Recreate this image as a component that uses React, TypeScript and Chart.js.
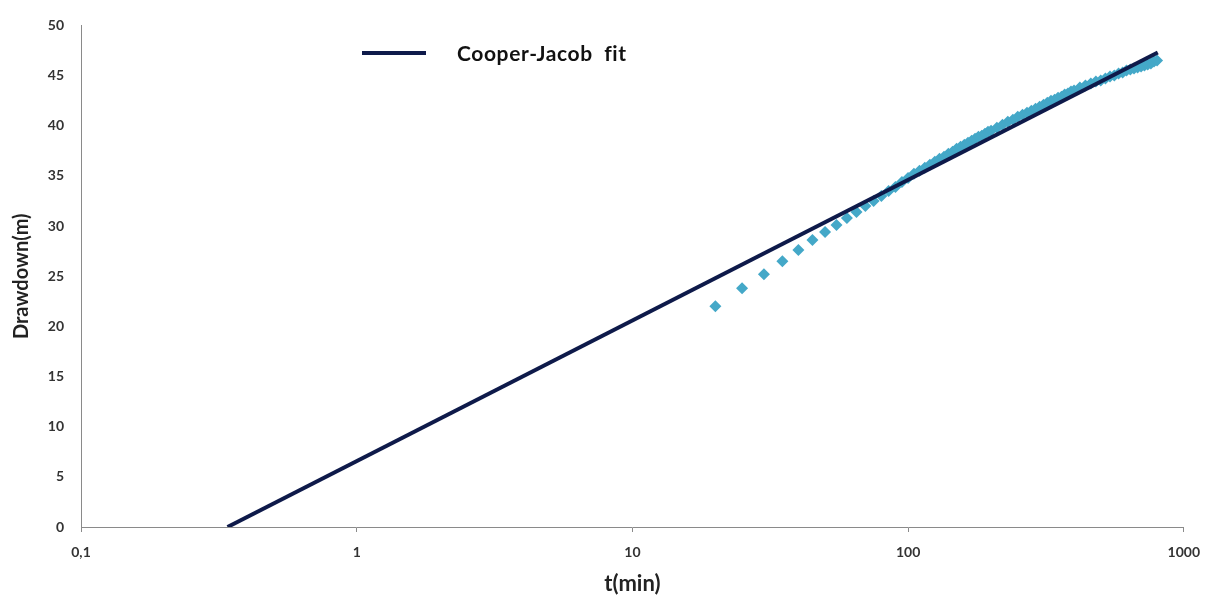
import React, { useEffect, useRef } from "react";
import { Chart, registerables } from "chart.js";

Chart.register(...registerables);

// Measured drawdown (t in minutes, s in metres)
const obsTime: number[] = [
  20, 25, 30, 35, 40, 45, 50, 55, 60, 65, 70, 75, 80, 85, 90, 95, 100,
  105, 110, 115, 120, 125, 130, 135, 140, 145, 150, 155, 160, 165, 170, 175, 180, 185, 190, 195, 200,
  210, 220, 230, 240, 250, 260, 270, 280, 290, 300, 310, 320, 330, 340, 350, 360, 370, 380, 390, 400,
  420, 440, 460, 480, 500, 520, 540, 560, 580, 600, 620, 640, 660, 680, 700, 720, 740, 760, 780, 800,
];
const obsDrawdown: number[] = [
  22.0, 23.8, 25.2, 26.5, 27.6, 28.6, 29.4, 30.1, 30.8, 31.4, 32.0, 32.5, 33.0, 33.5, 33.9, 34.4, 34.8,
  35.2, 35.5, 35.8, 36.1, 36.4, 36.7, 36.9, 37.2, 37.4, 37.7, 37.9, 38.1, 38.3, 38.5, 38.7, 38.9, 39.0, 39.2, 39.4, 39.5,
  39.8, 40.1, 40.4, 40.6, 40.9, 41.1, 41.3, 41.5, 41.7, 41.9, 42.1, 42.3, 42.5, 42.6, 42.8, 42.9, 43.1, 43.2, 43.4, 43.5,
  43.8, 44.0, 44.2, 44.4, 44.5, 44.7, 44.9, 45.0, 45.2, 45.3, 45.5, 45.6, 45.7, 45.8, 45.9, 46.0, 46.1, 46.2, 46.4, 46.5,
];

// Cooper-Jacob straight-line fit (end points)
const fitTime: number[] = [0.34, 805];
const fitDrawdown: number[] = [0, 47.3];

const xTickValues: number[] = [0.1, 1, 10, 100, 1000];
const xTickLabels: string[] = ["0,1", "1", "10", "100", "1000"];
const legendLabel = "Cooper-Jacob  fit";

const FIT_COLOR = "#0e1a4a";
const OBS_COLOR = "#44a8c8";
const FONT = "Lato, 'Open Sans', sans-serif";

export default function App() {
  const canvasRef = useRef<HTMLCanvasElement | null>(null);

  useEffect(() => {
    const canvas = canvasRef.current;
    if (!canvas) return;

    const legendPlugin = {
      id: "customLegend",
      afterDatasetsDraw(chart: any) {
        const ctx = chart.ctx;
        ctx.save();
        ctx.strokeStyle = FIT_COLOR;
        ctx.lineWidth = 4;
        ctx.beginPath();
        ctx.moveTo(362, 53);
        ctx.lineTo(426, 53);
        ctx.stroke();
        ctx.fillStyle = "#111111";
        ctx.font = `bold 21px ${FONT}`;
        try {
          (ctx as any).letterSpacing = "0.6px";
        } catch (e) {
          /* ignore */
        }
        ctx.textBaseline = "middle";
        ctx.textAlign = "left";
        ctx.fillText(legendLabel, 457, 54);
        ctx.restore();
      },
    };

    const chart = new Chart(canvas, {
      type: "scatter",
      data: {
        datasets: [
          {
            label: "Observed",
            data: obsTime.map((t, i) => ({ x: t, y: obsDrawdown[i] })),
            pointStyle: "rectRot",
            pointRadius: 6,
            pointBackgroundColor: OBS_COLOR,
            pointBorderColor: OBS_COLOR,
            pointBorderWidth: 0,
            showLine: false,
            order: 2,
          },
          {
            label: legendLabel,
            data: fitTime.map((t, i) => ({ x: t, y: fitDrawdown[i] })),
            showLine: true,
            borderColor: FIT_COLOR,
            borderWidth: 4,
            pointRadius: 0,
            order: 1,
          } as any,
        ],
      },
      options: {
        animation: false,
        responsive: true,
        maintainAspectRatio: false,
        layout: { padding: { left: 0, right: 27, top: 18, bottom: 0 } },
        plugins: {
          legend: { display: false },
          tooltip: { enabled: false },
        },
        scales: {
          x: {
            type: "logarithmic",
            min: 0.1,
            max: 1000,
            afterBuildTicks: (scale: any) => {
              scale.ticks = xTickValues.map((v) => ({ value: v }));
            },
            afterFit: (scale: any) => {
              scale.height = 75;
            },
            ticks: {
              autoSkip: false,
              maxRotation: 0,
              padding: 12,
              color: "#333333",
              font: { family: FONT, size: 14, weight: "bold" },
              callback: (value: any) => {
                const idx = xTickValues.findIndex((v) => Math.abs(v - Number(value)) < 1e-9);
                return idx >= 0 ? xTickLabels[idx] : "";
              },
            },
            grid: {
              display: true,
              drawOnChartArea: false,
              drawTicks: true,
              tickLength: 5,
              color: "#8a8a8a",
            },
            border: { display: true, color: "#8a8a8a", width: 1 },
            title: {
              display: true,
              text: "t(min)",
              color: "#222222",
              font: { family: FONT, size: 22, weight: "bold" },
              padding: { top: 0, bottom: 5 },
            },
          },
          y: {
            type: "linear",
            min: 0,
            max: 50,
            afterFit: (scale: any) => {
              scale.width = 81;
            },
            ticks: {
              stepSize: 5,
              padding: 17,
              color: "#333333",
              font: { family: FONT, size: 14, weight: "bold" },
            },
            grid: {
              display: true,
              drawOnChartArea: false,
              drawTicks: false,
              color: "#8a8a8a",
            },
            border: { display: true, color: "#8a8a8a", width: 1 },
            title: {
              display: true,
              text: "Drawdown(m)",
              color: "#222222",
              font: { family: FONT, size: 20, weight: "bold" },
              padding: { top: 10, bottom: 0 },
            },
          },
        },
      },
      plugins: [legendPlugin],
    } as any);

    return () => chart.destroy();
  }, []);

  return (
    <div
      style={{
        position: "absolute",
        left: 0,
        top: 0,
        width: 1212,
        height: 602,
        background: "#ffffff",
      }}
    >
      <canvas ref={canvasRef} />
    </div>
  );
}
